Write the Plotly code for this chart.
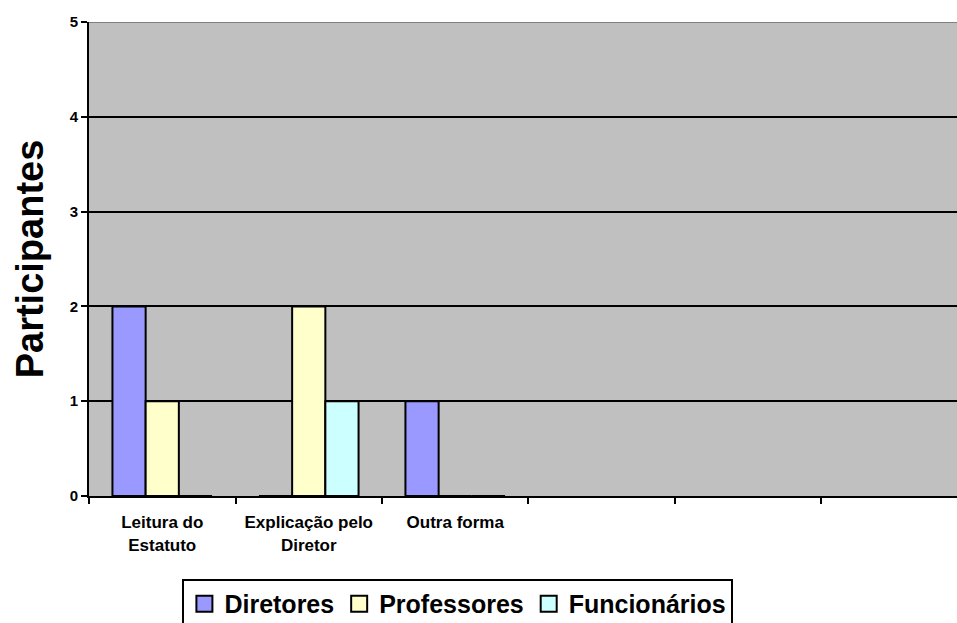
import plotly.graph_objects as go

categories = ["Leitura do<br>Estatuto", "Explicação pelo<br>Diretor", "Outra forma", " ", "  ", "   "]
diretores = [2, 0, 1, None, None, None]
professores = [1, 2, 0, None, None, None]
funcionarios = [0, 1, 0, None, None, None]
series_names = ["Diretores", "Professores", "Funcionários"]
series_colors = ["#9999FF", "#FFFFCC", "#CCFFFF"]
y_ticks = [0, 1, 2, 3, 4, 5]

FONT = "Arial, Liberation Sans, sans-serif"

fig = go.Figure()
for name, vals, color in zip(series_names, [diretores, professores, funcionarios], series_colors):
    fig.add_trace(go.Bar(
        x=categories, y=vals, name=name, showlegend=False,
        marker=dict(color=color, line=dict(color="black", width=2)),
    ))
# legend-only square markers
for name, color in zip(series_names, series_colors):
    fig.add_trace(go.Scatter(
        x=[None], y=[None], mode="markers", name=name,
        marker=dict(symbol="square", size=16, color=color,
                    line=dict(color="black", width=2)),
    ))

fig.update_layout(
    width=957, height=623,
    margin=dict(l=89, r=0, t=22, b=127, autoexpand=False),
    paper_bgcolor="white",
    plot_bgcolor="#C0C0C0",
    barmode="group",
    bargap=0.32,
    bargroupgap=0,
    font=dict(family=FONT, color="black"),
    showlegend=True,
    legend=dict(
        orientation="h",
        x=0.425, xanchor="center",
        y=-0.175, yanchor="top",
        bordercolor="black", borderwidth=2,
        bgcolor="white",
        font=dict(family=FONT, size=25, color="black", weight="bold"),
        itemsizing="trace",
        tracegroupgap=0,
        itemwidth=30,
    ),
    xaxis=dict(
        type="category",
        range=[-0.5, 5.425],
        tickson="boundaries",
        ticks="outside", ticklen=6, tickwidth=2, tickcolor="black",
        showline=True, linecolor="black", linewidth=2,
        showgrid=False,
        ticklabelstandoff=10,
        automargin=False,
        tickfont=dict(family=FONT, size=17, color="black", weight="bold"),
    ),
    yaxis=dict(
        range=[0, 5],
        tickvals=y_ticks,
        ticks="outside", ticklen=6, tickwidth=2, tickcolor="black",
        showline=True, linecolor="black", linewidth=2,
        showgrid=True, gridcolor="black", gridwidth=2,
        zeroline=False,
        automargin=False,
        tickfont=dict(family=FONT, size=15, color="black", weight="bold"),
        title=dict(text="Participantes", standoff=14,
                   font=dict(family=FONT, size=38, color="black", weight="bold")),
    ),
    shapes=[dict(type="line", xref="paper", yref="y", x0=0, x1=1, y0=5, y1=5,
                 line=dict(color="#808080", width=2), layer="above")],
)

fig.write_html("out.html")
